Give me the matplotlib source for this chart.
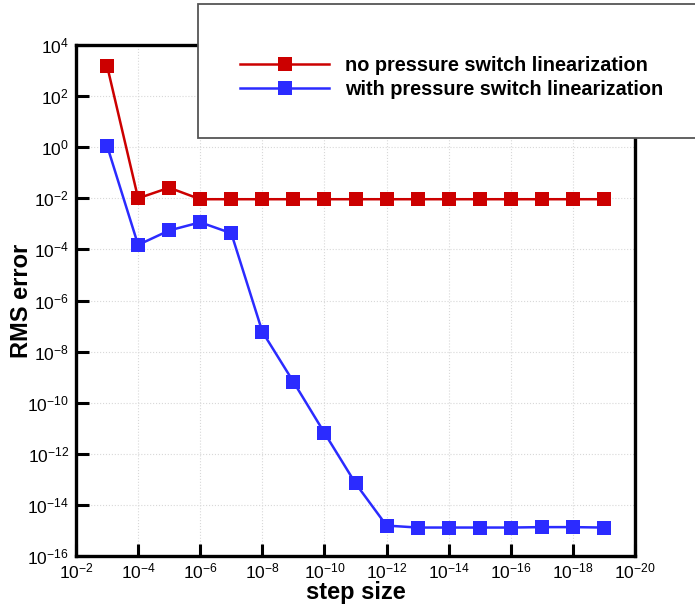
import matplotlib
matplotlib.use("Agg")
import matplotlib.pyplot as plt
from matplotlib.patches import Rectangle
from matplotlib.ticker import NullLocator

plt.rcParams['font.family'] = ['Liberation Sans', 'DejaVu Sans']
plt.rcParams['mathtext.fontset'] = 'custom'
plt.rcParams['mathtext.rm'] = 'Liberation Sans'
plt.rcParams['mathtext.default'] = 'regular'

step_size = [1e-3, 1e-4, 1e-5, 1e-6, 1e-7, 1e-8, 1e-9, 1e-10, 1e-11,
             1e-12, 1e-13, 1e-14, 1e-15, 1e-16, 1e-17, 1e-18, 1e-19]
rms_no_switch = [1.55e3, 1.0e-2, 2.6e-2, 9.2e-3, 9.2e-3, 9.2e-3, 9.2e-3, 9.2e-3, 9.2e-3,
                 9.2e-3, 9.2e-3, 9.2e-3, 9.2e-3, 9.2e-3, 9.2e-3, 9.2e-3, 9.2e-3]
rms_with_switch = [1.15, 1.5e-4, 5.5e-4, 1.15e-3, 4.3e-4, 6.0e-8, 6.6e-10, 6.6e-12, 7.0e-14,
                   1.55e-15, 1.3e-15, 1.3e-15, 1.3e-15, 1.3e-15, 1.35e-15, 1.35e-15, 1.3e-15]
labels = ["no pressure switch linearization", "with pressure switch linearization"]
x_ticks = [10.0 ** -k for k in range(2, 21, 2)]
y_ticks = [10.0 ** k for k in range(4, -17, -2)]

W, H = 695, 609
fig = plt.figure(figsize=(W / 100, H / 100), dpi=100)
ax = fig.add_axes([76 / W, 1 - 556 / H, (635 - 76) / W, (556 - 45) / H])

red = '#cc0000'
blue = '#2b2bff'
l1, = ax.plot(step_size, rms_no_switch, color=red, lw=1.8, marker='s', ms=10.5,
              markeredgewidth=0, label=labels[0], zorder=3)
l2, = ax.plot(step_size, rms_with_switch, color=blue, lw=1.8, marker='s', ms=10.5,
              markeredgewidth=0, label=labels[1], zorder=3)

ax.set_xscale('log')
ax.set_yscale('log')
ax.set_xlim(1e-2, 1e-20)
ax.set_ylim(1e-16, 1e4)
ax.set_xticks(x_ticks)
ax.set_yticks(y_ticks)
ax.xaxis.set_minor_locator(NullLocator())
ax.yaxis.set_minor_locator(NullLocator())
ax.tick_params(axis='both', which='major', direction='in', length=9, width=2.2,
               labelsize=12.5, top=False, right=False)
ax.tick_params(axis='x', pad=4)
ax.tick_params(axis='y', pad=5)
for s in ax.spines.values():
    s.set_linewidth(2.4)
ax.grid(True, which='major', color='#d8d8d8', linestyle=':', linewidth=0.8, zorder=0)

ax.set_xlabel('step size', fontsize=17, fontweight='bold', labelpad=0)
ax.set_ylabel('RMS error', fontsize=17, fontweight='bold')
ax.yaxis.set_label_coords(-0.077, 0.5)

rect = Rectangle((198 / W, 1 - 138 / H), 600 / W, (138 - 4) / H, transform=fig.transFigure,
                 facecolor='white', edgecolor='#555555', linewidth=1.3, zorder=4, clip_on=False)
fig.add_artist(rect)

leg = fig.legend(handles=[l1, l2], labels=labels, loc='center left',
                 bbox_to_anchor=(240 / W, 1 - 77.5 / H), bbox_transform=fig.transFigure,
                 frameon=False, borderpad=0, borderaxespad=0, handlelength=4.5,
                 handletextpad=0.8, labelspacing=0.25,
                 prop={'weight': 'bold', 'size': 14.3})
leg.set_zorder(6)

fig.savefig('out.png', dpi=100)
